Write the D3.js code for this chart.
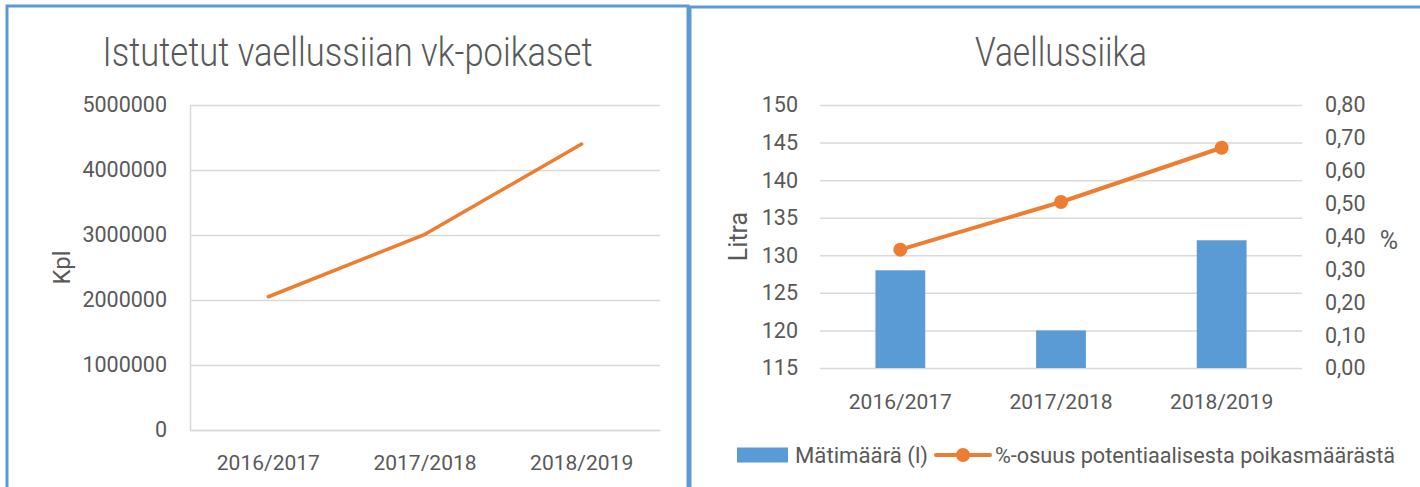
<!DOCTYPE html>
<html>
<head>
<meta charset="utf-8">
<script src="https://cdn.jsdelivr.net/npm/d3@7"></script>
<style>
  body { margin: 0; background: #fff; }
  svg { display: block; font-family: Roboto, "Noto Sans", sans-serif; }
  .tick text { fill: #595959; }
</style>
</head>
<body>
<div id="container"></div>
<script>
// Kausittaiset arvot
const categories = ["2016/2017", "2017/2018", "2018/2019"];
const poikaset = [2050000, 3010000, 4400000];   // istutetut vk-poikaset, kpl
const matimaara = [128, 120, 132];              // mätimäärä, litraa
const osuus = [0.36, 0.505, 0.67];              // %-osuus potentiaalisesta poikasmäärästä

const width = 1420;
const height = 487;
const textColor = "#595959";
const gridColor = "#d9d9d9";
const blue = "#5b9bd5";
const orange = "#ed7d31";
const border = "#5b9bd5";

const svg = d3.select("#container")
  .append("svg")
  .attr("width", width)
  .attr("height", height);

svg.append("rect").attr("width", width).attr("height", height).attr("fill", "#fff");

// Kehykset
svg.append("rect")
  .attr("x", 7).attr("y", 6)
  .attr("width", 681).attr("height", 500)
  .attr("fill", "none").attr("stroke", border).attr("stroke-width", 3);
svg.append("rect")
  .attr("x", 690).attr("y", 7)
  .attr("width", 760).attr("height", 500)
  .attr("fill", "none").attr("stroke", border).attr("stroke-width", 3);

// ---------- Vasen kaavio: istutetut poikaset ----------
const x1 = d3.scaleBand().domain(categories).range([190, 660]);
const y1 = d3.scaleLinear().domain([0, 5000000]).range([430, 105]);

svg.append("text")
  .attr("x", 347.5).attr("y", 66)
  .attr("text-anchor", "middle")
  .attr("font-size", 40).attr("font-weight", 300)
  .attr("fill", textColor)
  .attr("textLength", 490).attr("lengthAdjust", "spacingAndGlyphs")
  .text("Istutetut vaellussiian vk-poikaset");

// ruudukko
svg.append("g")
  .attr("transform", "translate(190,0)")
  .call(d3.axisLeft(y1).ticks(5).tickSize(-470).tickFormat(""))
  .call(g => g.select(".domain").remove())
  .call(g => g.selectAll("line").attr("stroke", gridColor).attr("stroke-width", 1.5));

// y-akseli
svg.append("g")
  .attr("transform", "translate(190,0)")
  .call(d3.axisLeft(y1).ticks(5).tickSize(0).tickPadding(23).tickFormat(d3.format("d")))
  .call(g => g.select(".domain").attr("stroke", gridColor).attr("stroke-width", 1.5))
  .call(g => g.selectAll("text").attr("font-size", 21.5).attr("font-family", "Roboto"));

// x-akseli
svg.append("g")
  .attr("transform", "translate(0,430)")
  .call(d3.axisBottom(x1).tickSize(0).tickPadding(25))
  .call(g => g.select(".domain").attr("stroke", gridColor).attr("stroke-width", 1.5))
  .call(g => g.selectAll("text").attr("font-size", 21).attr("font-family", "Roboto"));

svg.append("text")
  .attr("transform", `translate(62,${(105 + 430) / 2}) rotate(-90)`)
  .attr("text-anchor", "middle").attr("dy", "0.35em")
  .attr("font-size", 24).attr("fill", textColor)
  .text("Kpl");

const line1 = d3.line()
  .x((d, i) => x1(categories[i]) + x1.bandwidth() / 2)
  .y(d => y1(d));

svg.append("path")
  .datum(poikaset)
  .attr("d", line1)
  .attr("fill", "none")
  .attr("stroke", orange)
  .attr("stroke-width", 3.5)
  .attr("stroke-linecap", "round")
  .attr("stroke-linejoin", "round");

// ---------- Oikea kaavio: Vaellussiika ----------
const x2 = d3.scaleBand().domain(categories).range([820, 1302]);
const yL = d3.scaleLinear().domain([115, 150]).range([368, 105]);
const yR = d3.scaleLinear().domain([0, 0.8]).range([368, 105]);
const barWidth = x2.bandwidth() * 0.31;
const commaFormat = d => d3.format(".2f")(d).replace(".", ",");

svg.append("text")
  .attr("x", 1061).attr("y", 66)
  .attr("text-anchor", "middle")
  .attr("font-size", 40).attr("font-weight", 300)
  .attr("fill", textColor)
  .attr("textLength", 172).attr("lengthAdjust", "spacingAndGlyphs")
  .text("Vaellussiika");

svg.append("g")
  .attr("transform", "translate(820,0)")
  .call(d3.axisLeft(yL).ticks(7).tickSize(-482).tickFormat(""))
  .call(g => g.select(".domain").remove())
  .call(g => g.selectAll("line").attr("stroke", gridColor).attr("stroke-width", 1.5));

svg.append("g")
  .attr("transform", "translate(820,0)")
  .call(d3.axisLeft(yL).ticks(7).tickSize(0).tickPadding(22))
  .call(g => g.select(".domain").remove())
  .call(g => g.selectAll("text").attr("font-size", 21.5).attr("font-family", "Roboto"));

svg.append("g")
  .attr("transform", "translate(1302,0)")
  .call(d3.axisRight(yR).ticks(8).tickSize(0).tickPadding(23).tickFormat(commaFormat))
  .call(g => g.select(".domain").remove())
  .call(g => g.selectAll("text").attr("font-size", 21.5).attr("font-family", "Roboto"));

svg.append("g")
  .attr("transform", "translate(0,368)")
  .call(d3.axisBottom(x2).tickSize(0).tickPadding(26))
  .call(g => g.select(".domain").remove())
  .call(g => g.selectAll("text").attr("font-size", 21).attr("font-family", "Roboto"));

svg.append("text")
  .attr("transform", `translate(738,${(105 + 368) / 2}) rotate(-90)`)
  .attr("text-anchor", "middle").attr("dy", "0.35em")
  .attr("font-size", 25).attr("fill", textColor)
  .text("Litra");

svg.append("text")
  .attr("x", 1389).attr("y", 240).attr("dy", "0.35em")
  .attr("text-anchor", "middle")
  .attr("font-size", 25).attr("fill", textColor)
  .text("%");

svg.append("g")
  .selectAll("rect")
  .data(matimaara)
  .join("rect")
  .attr("x", (d, i) => x2(categories[i]) + (x2.bandwidth() - barWidth) / 2)
  .attr("y", d => yL(d))
  .attr("width", barWidth)
  .attr("height", d => yL(115) - yL(d))
  .attr("fill", blue);

const cx2 = (d, i) => x2(categories[i]) + x2.bandwidth() / 2;

svg.append("path")
  .datum(osuus)
  .attr("d", d3.line().x(cx2).y(d => yR(d)))
  .attr("fill", "none")
  .attr("stroke", orange)
  .attr("stroke-width", 4)
  .attr("stroke-linecap", "round");

svg.append("g")
  .selectAll("circle")
  .data(osuus)
  .join("circle")
  .attr("cx", cx2)
  .attr("cy", d => yR(d))
  .attr("r", 7)
  .attr("fill", orange);

// selite
const legendY = 455;
const legend = svg.append("g");
legend.append("rect")
  .attr("x", 737).attr("y", legendY - 7.5)
  .attr("width", 51).attr("height", 15)
  .attr("fill", blue);
legend.append("text")
  .attr("x", 795).attr("y", legendY).attr("dy", "0.35em")
  .attr("font-size", 22).attr("fill", textColor)
  .attr("textLength", 133).attr("lengthAdjust", "spacingAndGlyphs")
  .text("Mätimäärä (l)");
legend.append("line")
  .attr("x1", 936).attr("x2", 990)
  .attr("y1", legendY).attr("y2", legendY)
  .attr("stroke", orange).attr("stroke-width", 4).attr("stroke-linecap", "round");
legend.append("circle")
  .attr("cx", 963).attr("cy", legendY).attr("r", 7)
  .attr("fill", orange);
legend.append("text")
  .attr("x", 995).attr("y", legendY).attr("dy", "0.35em")
  .attr("font-size", 22).attr("fill", textColor)
  .attr("textLength", 400).attr("lengthAdjust", "spacingAndGlyphs")
  .text("%-osuus potentiaalisesta poikasmäärästä");
</script>
</body>
</html>
